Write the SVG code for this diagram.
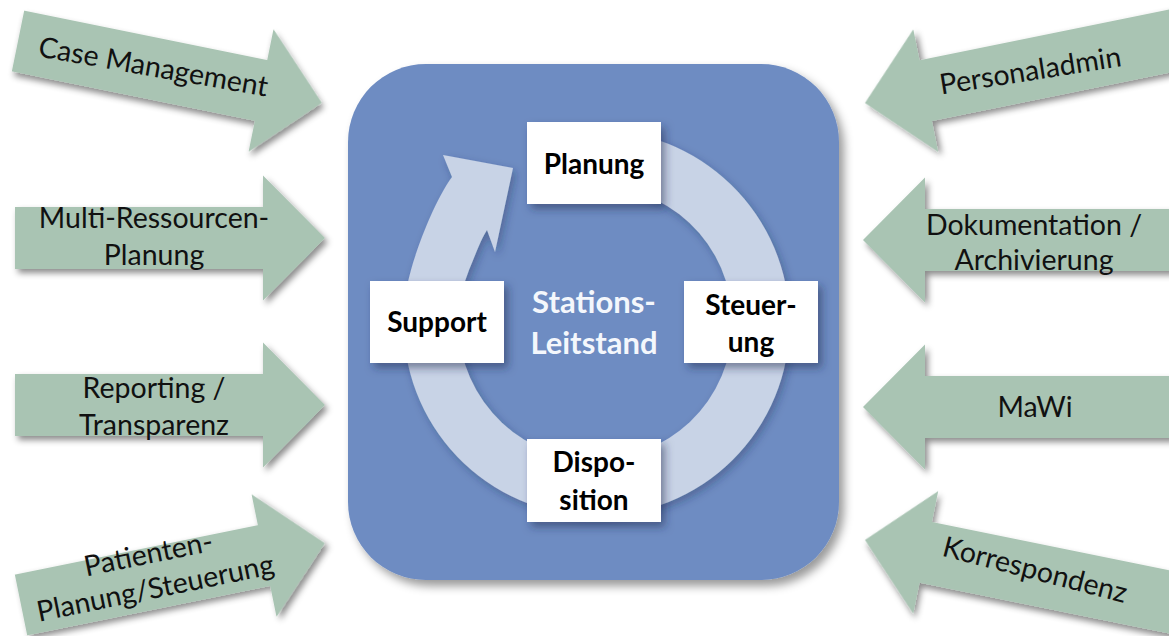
<svg xmlns="http://www.w3.org/2000/svg" xmlns:xlink="http://www.w3.org/1999/xlink" width="1169" height="636" viewBox="0 0 1169 636">
  <style>
    .arrow { fill: #A9C4B3; }
    .lbl { font-family: Lato, "Liberation Sans", sans-serif; font-size: 28.5px; fill: #111; text-anchor: middle; }
    .box { fill: #FFFFFF; }
    .btxt { font-family: Lato, "Liberation Sans", sans-serif; font-weight: bold; font-size: 28px; fill: #000; text-anchor: middle; }
    .ctxt { font-family: Lato, "Liberation Sans", sans-serif; font-weight: bold; font-size: 31px; fill: #F4F7FC; text-anchor: middle; }
  </style>
  <defs>
    <filter id="shA" x="-20%" y="-30%" width="140%" height="170%">
      <feDropShadow dx="3" dy="4" stdDeviation="3" flood-color="#000" flood-opacity="0.45"/>
    </filter>
    <filter id="shBig" x="-10%" y="-10%" width="125%" height="125%">
      <feDropShadow dx="5" dy="6" stdDeviation="5" flood-color="#000" flood-opacity="0.4"/>
    </filter>
    <filter id="shBox" x="-20%" y="-20%" width="150%" height="160%">
      <feDropShadow dx="4" dy="5" stdDeviation="4" flood-color="#1a2a50" flood-opacity="0.5"/>
    </filter>
    <filter id="shRing" x="-10%" y="-10%" width="125%" height="125%">
      <feDropShadow dx="3" dy="4" stdDeviation="4" flood-color="#1a2a50" flood-opacity="0.35"/>
    </filter>
    <path id="arrR" d="M0,-31 H248 V-62.5 L310,0 L248,62.5 V31 H0 Z"/>
    <path id="arrL" d="M0,0 L62,-62.5 V-31 H360 V31 H62 V62.5 Z"/>
  </defs>

  <!-- Central panel -->
  <g id="panel">
    <rect x="348" y="64" width="491" height="516" rx="78" ry="78" fill="#6E8CC2" filter="url(#shBig)"/>
  </g>

  <!-- Connectors: circular cycle arrow -->
  <g id="connectors">
    <path id="cycle-arrow" fill="#C8D3E6" filter="url(#shRing)"
      d="M640,135 A193,193 0 1 1 411,270 C419,241 437,197 452,177 L443,155 L513,168 L495,252 L487,230 C480,241 475,256 469,270 A137,137 0 1 0 630,190 Z"/>
  </g>

  <!-- Center label -->
  <g id="center-label">
    <text class="ctxt" x="594" y="313">Stations-</text>
    <text class="ctxt" x="594" y="354">Leitstand</text>
  </g>

  <!-- Cycle boxes -->
  <g id="node-planung">
    <rect class="box" x="527" y="122" width="134" height="82" filter="url(#shBox)"/>
    <text class="btxt" x="594" y="174">Planung</text>
  </g>
  <g id="node-support">
    <rect class="box" x="370" y="281" width="134" height="82" filter="url(#shBox)"/>
    <text class="btxt" x="437" y="332">Support</text>
  </g>
  <g id="node-steuerung">
    <rect class="box" x="684" y="281" width="134" height="82" filter="url(#shBox)"/>
    <text class="btxt" x="751" y="315">Steuer-</text>
    <text class="btxt" x="751" y="352">ung</text>
  </g>
  <g id="node-disposition">
    <rect class="box" x="527" y="439" width="134" height="83" filter="url(#shBox)"/>
    <text class="btxt" x="594" y="472">Dispo-</text>
    <text class="btxt" x="594" y="510">sition</text>
  </g>

  <!-- Left input arrows -->
  <g id="node-case-management" transform="translate(18,41) rotate(11.5)">
    <use xlink:href="#arrR" class="arrow" filter="url(#shA)"/>
    <text class="lbl" x="138" y="8" transform="rotate(-1.5 138 8)">Case Management</text>
  </g>
  <g id="node-multi-ressourcen" transform="translate(15,238)">
    <use xlink:href="#arrR" class="arrow" filter="url(#shA)"/>
    <text class="lbl" x="139" y="-10">Multi-Ressourcen-</text>
    <text class="lbl" x="139" y="27">Planung</text>
  </g>
  <g id="node-reporting" transform="translate(15,405)">
    <use xlink:href="#arrR" class="arrow" filter="url(#shA)"/>
    <text class="lbl" x="139" y="-7">Reporting /</text>
    <text class="lbl" x="139" y="30">Transparenz</text>
  </g>
  <g id="node-patienten" transform="translate(21,605) rotate(-11.5)">
    <use xlink:href="#arrR" class="arrow" filter="url(#shA)"/>
    <text class="lbl" x="135" y="-15">Patienten-</text>
    <text class="lbl" x="135" y="20">Planung/Steuerung</text>
  </g>

  <!-- Right input arrows -->
  <g id="node-personaladmin" transform="translate(865,103) rotate(-11.5)">
    <use xlink:href="#arrL" class="arrow" filter="url(#shA)"/>
    <text class="lbl" x="168" y="11" transform="rotate(2.5 168 11)">Personaladmin</text>
  </g>
  <g id="node-dokumentation" transform="translate(863,240)">
    <use xlink:href="#arrL" class="arrow" filter="url(#shA)"/>
    <text class="lbl" x="171" y="-5">Dokumentation /</text>
    <text class="lbl" x="171" y="30">Archivierung</text>
  </g>
  <g id="node-mawi" transform="translate(863,407)">
    <use xlink:href="#arrL" class="arrow" filter="url(#shA)"/>
    <text class="lbl" x="172" y="10">MaWi</text>
  </g>
  <g id="node-korrespondenz" transform="translate(865,540) rotate(11.5)">
    <use xlink:href="#arrL" class="arrow" filter="url(#shA)"/>
    <text class="lbl" x="172" y="5" transform="rotate(3 172 5)">Korrespondenz</text>
  </g>
</svg>
